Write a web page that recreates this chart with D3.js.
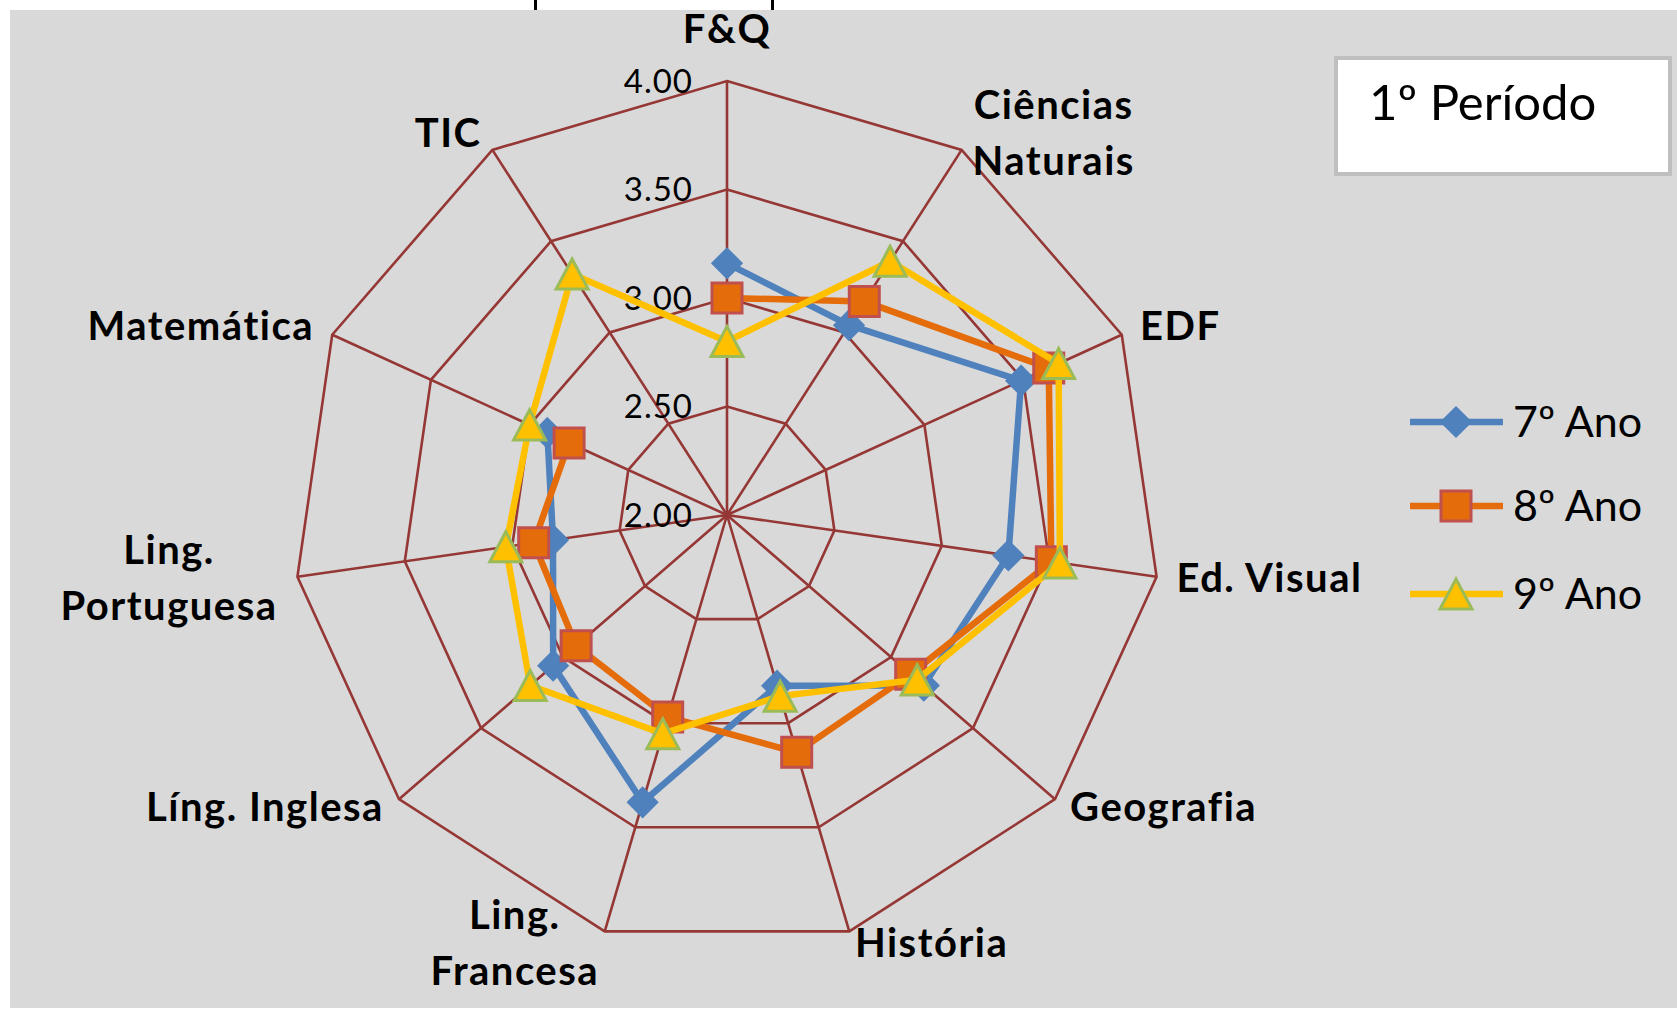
<!DOCTYPE html>
<html>
<head>
<meta charset="utf-8">
<script src="https://cdn.jsdelivr.net/npm/d3@7"></script>
<style>
  body { margin: 0; background: #ffffff; }
  svg { display: block; }
</style>
</head>
<body>
<svg id="chart" width="1677" height="1011"></svg>
<script>
// subjects, clockwise from the top ("\n" = line break in the label)
var categories = ["F&Q", "Ciências\nNaturais", "EDF", "Ed. Visual", "Geografia", "História",
    "Ling.\nFrancesa", "Líng. Inglesa", "Ling.\nPortuguesa", "Matemática", "TIC"];
var seriesNames = ["7º Ano", "8º Ano", "9º Ano"];
// null = no value (no line drawn to it)
var ano7 = [3.16, 3.04, 3.49, 3.31, 3.20, 2.82, 3.38, 3.06, 2.81, 2.91, null];
var ano8 = [3.00, 3.17, 3.63, 3.51, 3.12, 3.14, 2.97, 2.92, 2.90, 2.80, null];
var ano9 = [2.80, 3.39, 3.68, 3.55, 3.16, 2.87, 3.05, 3.20, 3.03, 3.00, 3.32];
var tickValues = [2.00, 2.50, 3.00, 3.50, 4.00];
var boxTitle = "1º Período";

var svg = d3.select("#chart");
var cx = 727, cy = 515, R = 434;
var gridColor = "#953735";

var colors = ["#4F81BD", "#E46C0A", "#FFC000"];
var markerStroke = ["#4F81BD", "#C0504D", "#9BBB59"];
var seriesData = [ano7, ano8, ano9];

// chart area
svg.append("rect")
    .attr("x", 10).attr("y", 10)
    .attr("width", 1667).attr("height", 998)
    .attr("fill", "#D9D9D9");

// bits of a cut-off title above the chart area
svg.append("rect").attr("x", 534).attr("y", 0).attr("width", 3).attr("height", 10).attr("fill", "#000");
svg.append("rect").attr("x", 771).attr("y", 0).attr("width", 3).attr("height", 10).attr("fill", "#000");

var n = categories.length;
var angle = d3.scaleLinear().domain([0, n]).range([0, 2 * Math.PI]);
var r = d3.scaleLinear().domain([2, 4]).range([0, R]);

function px(i, v) { return cx + r(v) * Math.sin(angle(i)); }
function py(i, v) { return cy - r(v) * Math.cos(angle(i)); }

var g = svg.append("g");

// rings
tickValues.filter(function(t) { return t > 2; }).forEach(function(t) {
    var pts = d3.range(n).map(function(i) { return [px(i, t), py(i, t)]; });
    g.append("polygon")
        .attr("points", pts.map(function(p) { return p.join(","); }).join(" "))
        .attr("fill", "none")
        .attr("stroke", gridColor)
        .attr("stroke-width", 2.6);
});

// spokes
d3.range(n).forEach(function(i) {
    g.append("line")
        .attr("x1", cx).attr("y1", cy)
        .attr("x2", px(i, 4)).attr("y2", py(i, 4))
        .attr("stroke", gridColor)
        .attr("stroke-width", 2.6);
});

// tick labels along the top spoke
g.selectAll(".tick")
    .data(tickValues)
    .enter().append("text")
    .attr("class", "tick")
    .attr("x", cx - 34)
    .attr("y", function(d) { return py(0, d); })
    .attr("dy", "0.35em")
    .attr("text-anchor", "end")
    .attr("font-family", "Lato")
    .attr("font-size", 33)
    .attr("letter-spacing", 1)
    .attr("fill", "#000")
    .text(function(d) { return d3.format(".2f")(d); });

// category labels
var padX = 20, lineH = 56;
categories.forEach(function(name, i) {
    var a = angle(i);
    var s = Math.sin(a), c = Math.cos(a);
    var padY = c > 0 ? 20 : 12;
    var lx = cx + (R + padX) * s;
    var ly = cy - (R + padY) * c;
    var lines = name.split("\n");
    var t = g.append("text")
        .attr("font-family", "Lato")
        .attr("font-weight", "bold")
        .attr("font-size", 40)
        .attr("letter-spacing", 1.5)
        .attr("fill", "#000")
        .attr("text-anchor", "middle");
    var spans = lines.map(function(l) { return t.append("tspan").text(l); });
    var w = d3.max(spans, function(sp) { return sp.node().getComputedTextLength(); });
    var mx = lx;
    if (s > 0.01) mx = lx + w / 2;
    else if (s < -0.01) mx = lx - w / 2;
    var top;
    if (Math.abs(s) <= 0.01) top = ly - lines.length * lineH - 4;   // above the top spoke
    else top = ly - lines.length * lineH / 2;
    spans.forEach(function(sp, k) {
        sp.attr("x", mx).attr("y", top + k * lineH + lineH / 2).attr("dy", "0.35em");
    });
});

// markers
function markerPath(k, size) {
    if (k === 0) {
        var h = size * 0.5;
        return "M0," + (-h) + "L" + h + ",0L0," + h + "L" + (-h) + ",0Z";
    } else if (k === 1) {
        var q = size / 2;
        return "M" + (-q) + "," + (-q) + "H" + q + "V" + q + "H" + (-q) + "Z";
    } else {
        var hw = size / 2, hh = size * 0.47;
        return "M0," + (-hh) + "L" + hw + "," + hh + "L" + (-hw) + "," + hh + "Z";
    }
}
var markerSize = [28, 30, 32];

var line = d3.line()
    .defined(function(d) { return d.v != null; })
    .x(function(d) { return px(d.i, d.v); })
    .y(function(d) { return py(d.i, d.v); });

seriesData.forEach(function(vals, k) {
    var pts = vals.map(function(v, i) { return { i: i, v: v }; });
    pts.push({ i: n, v: vals[0] });
    var sg = g.append("g");
    sg.append("path")
        .attr("d", line(pts))
        .attr("fill", "none")
        .attr("stroke", colors[k])
        .attr("stroke-width", 6.5)
        .attr("stroke-linejoin", "round");
    sg.selectAll(".m")
        .data(pts.slice(0, n).filter(function(d) { return d.v != null; }))
        .enter().append("path")
        .attr("transform", function(d) { return "translate(" + px(d.i, d.v) + "," + py(d.i, d.v) + ")"; })
        .attr("d", markerPath(k, markerSize[k]))
        .attr("fill", colors[k])
        .attr("stroke", markerStroke[k])
        .attr("stroke-width", 3);
});

// title box
svg.append("rect")
    .attr("x", 1336).attr("y", 58)
    .attr("width", 334).attr("height", 116)
    .attr("fill", "#fff")
    .attr("stroke", "#BFBFBF")
    .attr("stroke-width", 4);
svg.append("text")
    .attr("x", 1369).attr("y", 120)
    .attr("font-family", "Lato")
    .attr("font-size", 49)
    .attr("fill", "#000")
    .text(boxTitle);

// legend
var legY = [422, 506, 594];
seriesNames.forEach(function(name, k) {
    var lg = svg.append("g").attr("transform", "translate(0," + legY[k] + ")");
    lg.append("line")
        .attr("x1", 1410).attr("x2", 1503)
        .attr("stroke", colors[k]).attr("stroke-width", 6.5);
    lg.append("path")
        .attr("transform", "translate(1456,0)")
        .attr("d", markerPath(k, markerSize[k]))
        .attr("fill", colors[k])
        .attr("stroke", markerStroke[k])
        .attr("stroke-width", 3);
    lg.append("text")
        .attr("x", 1513).attr("dy", "0.35em")
        .attr("font-family", "Lato")
        .attr("font-size", 43)
        .attr("fill", "#000")
        .text(name);
});
</script>
</body>
</html>
